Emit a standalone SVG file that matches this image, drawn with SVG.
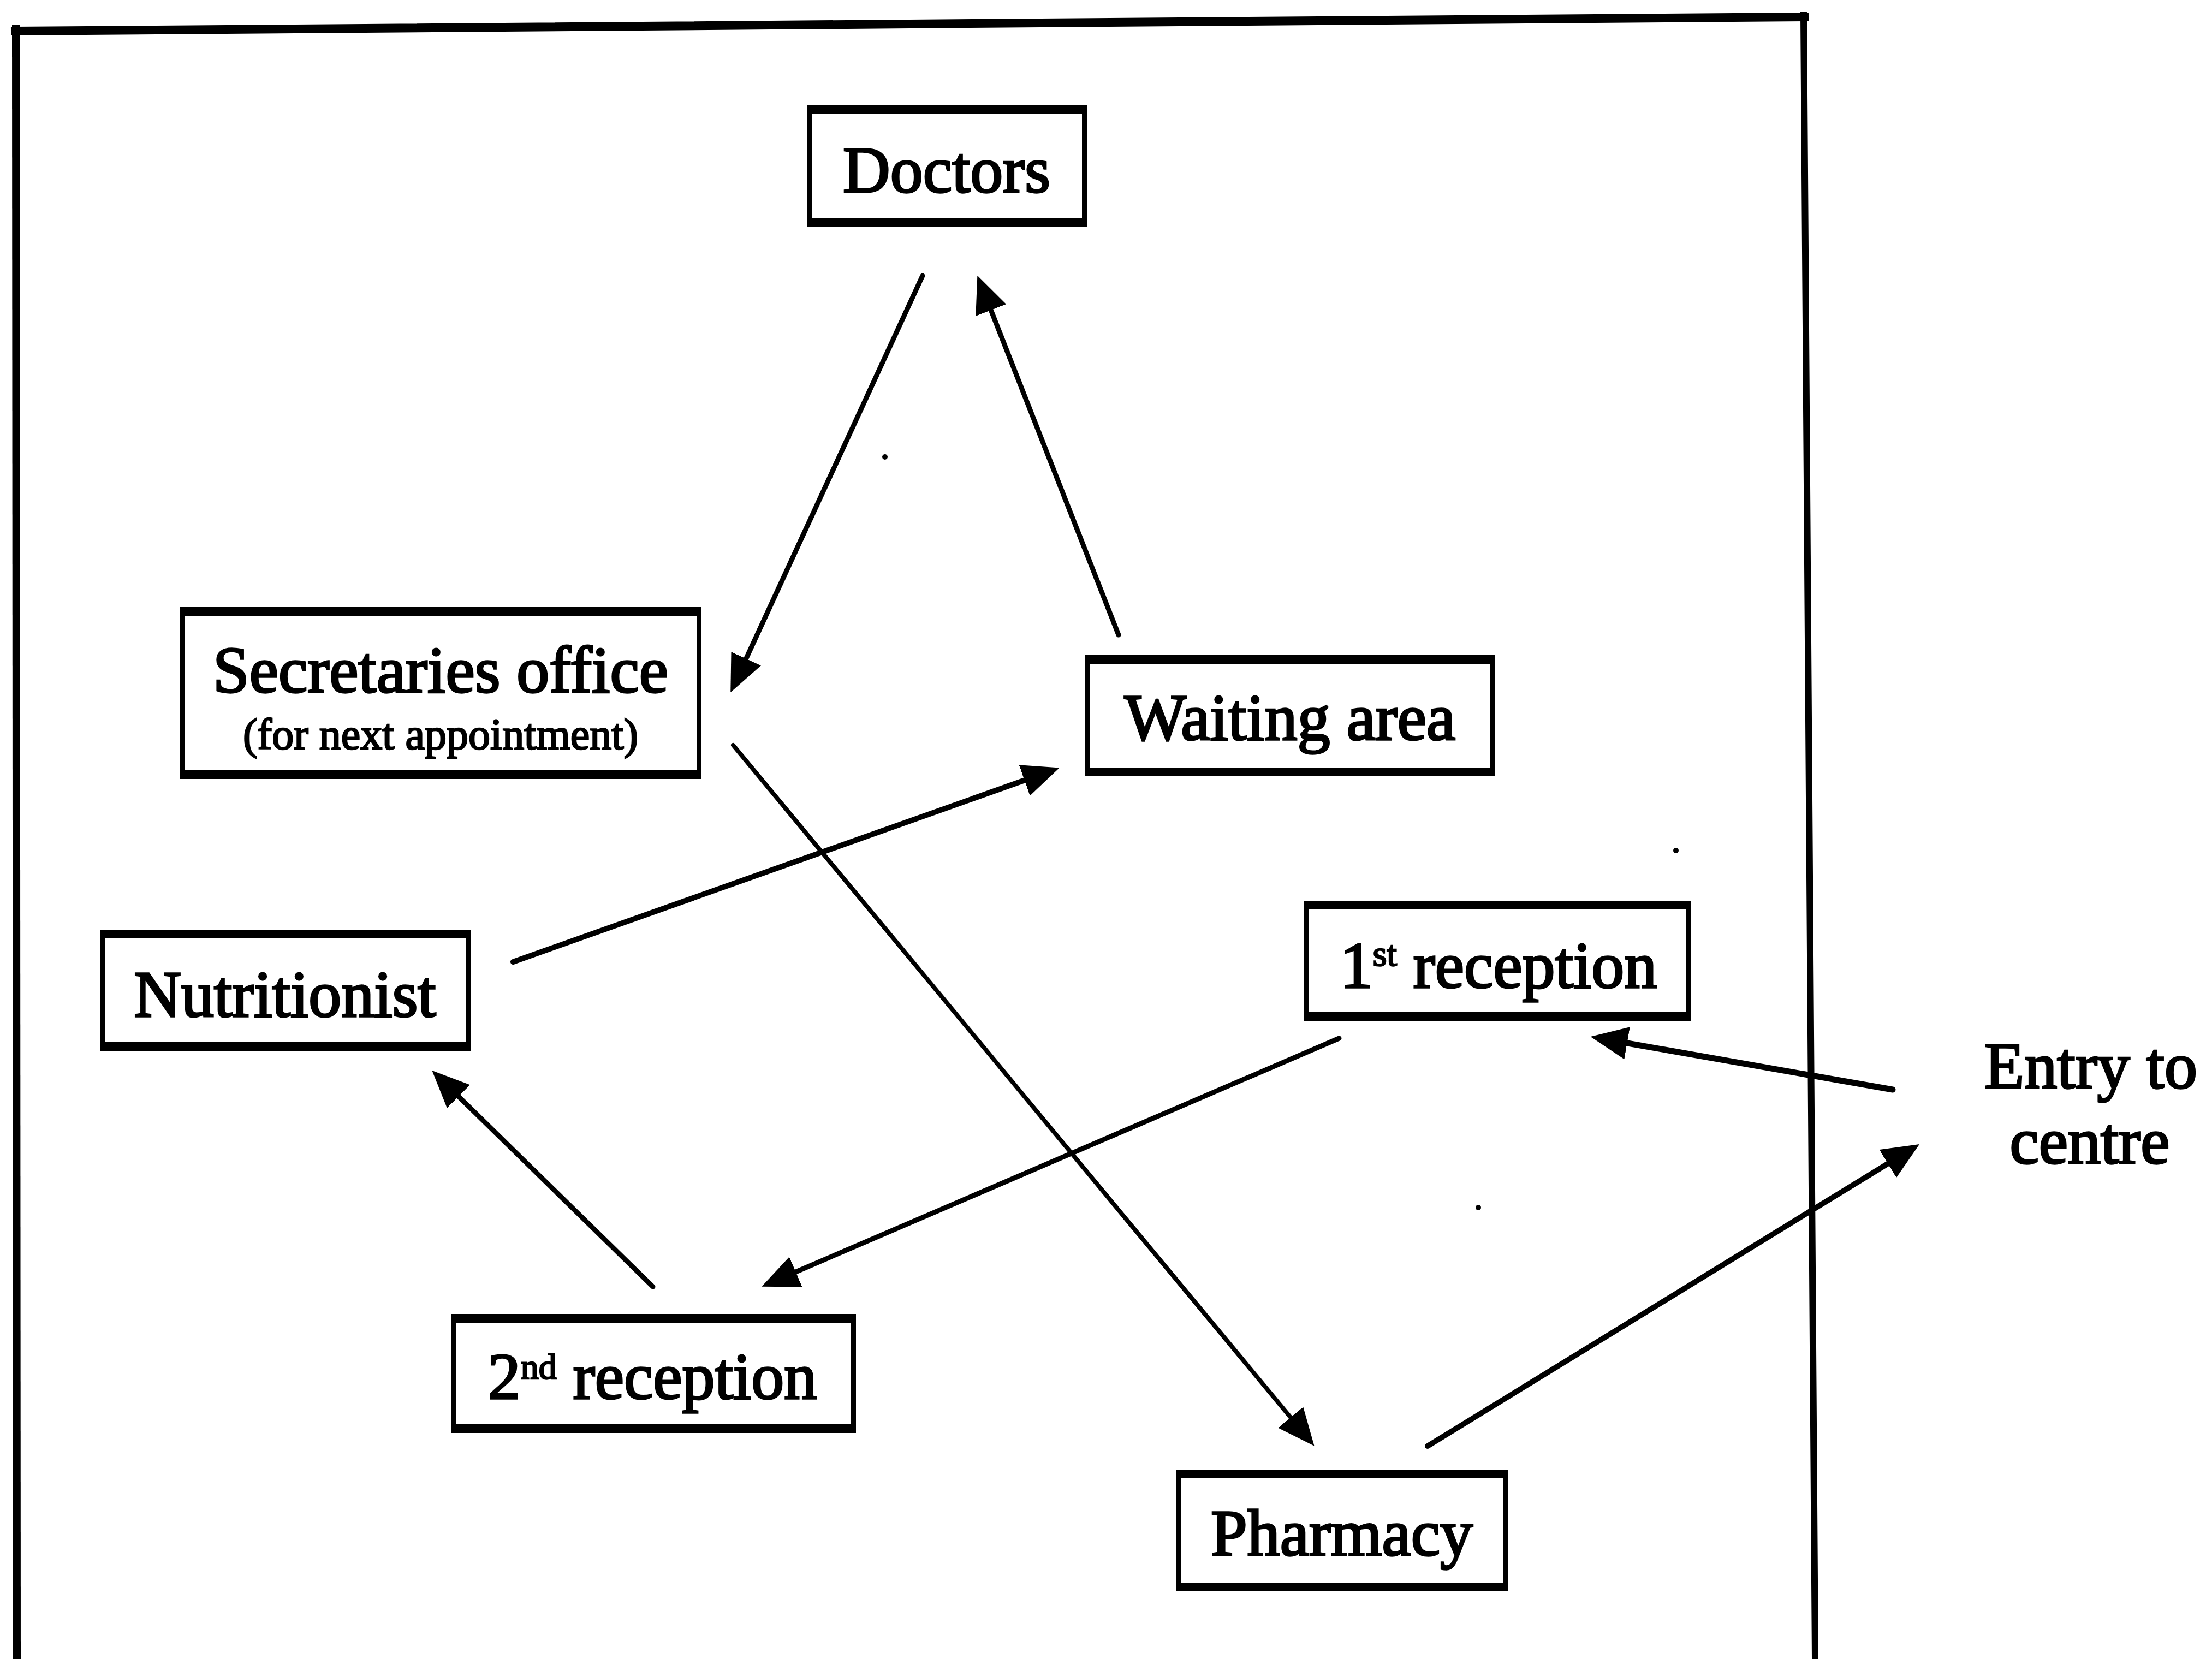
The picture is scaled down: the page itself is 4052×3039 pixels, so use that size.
<svg xmlns="http://www.w3.org/2000/svg" width="4052" height="3039" viewBox="0 0 4052 3039">
  <style>
    .bo { fill: #000; }
    .bi { fill: #fff; }
    .lbl { font-family: "Liberation Serif", "Times New Roman", serif; font-size: 120px; fill: #000; stroke: #000; stroke-width: 3.5; text-anchor: middle; }
    .small { font-size: 80px; stroke-width: 2.5; }
    .sup { font-size: 66px; stroke-width: 2.5; }
    .frame { stroke: #000; fill: none; stroke-linecap: square; }
    .conn { stroke: #000; fill: none; stroke-width: 9; stroke-linecap: round; marker-end: url(#arrow); }
    .speck { fill: #000; }
  </style>
  <defs>
    <marker id="arrow" markerUnits="userSpaceOnUse" viewBox="0 0 68 60" markerWidth="68" markerHeight="60" refX="28" refY="30" orient="auto">
      <path d="M0,0 L68,30 L0,60 Z" fill="#000"/>
    </marker>
  </defs>

  <rect width="4052" height="3039" fill="#fff"/>

  <!-- outer frame of the centre -->
  <g id="frame">
    <path class="frame" d="M28,57 L3305,31" stroke-width="16"/>
    <path class="frame" d="M29,52 L31,3039" stroke-width="14"/>
    <path class="frame" d="M3304,28 L3325,3039" stroke-width="12"/>
  </g>

  <!-- connectors -->
  <g id="connectors">
    <path class="conn" d="M1690,505 L1355,1232"/>
    <path class="conn" d="M2049,1163 L1805,542"/>
    <path class="conn" d="M1343,1365 L2382,2618" style="stroke-width:8"/>
    <path class="conn" d="M940,1762 L1903,1420" style="stroke-width:10"/>
    <path class="conn" d="M1196,2357 L820,1989"/>
    <path class="conn" d="M2453,1902 L1432,2341"/>
    <path class="conn" d="M3467,1996 L2953,1906" style="stroke-width:11"/>
    <path class="conn" d="M2615,2649 L3482,2117" style="stroke-width:10"/>
  </g>

  <!-- rooms: black outer rect with white inner rect gives thick top/bottom, thinner sides -->
  <g id="doctors">
    <rect class="bo" x="1478" y="192" width="513" height="224"/>
    <rect class="bi" x="1487" y="208" width="495" height="192"/>
    <text class="lbl" x="1734" y="352">Doctors</text>
  </g>

  <g id="secretaries">
    <rect class="bo" x="330" y="1112" width="955" height="315"/>
    <rect class="bi" x="339" y="1128" width="937" height="283"/>
    <text class="lbl" x="807" y="1268">Secretaries office</text>
    <text class="lbl small" x="807" y="1372">(for next appointment)</text>
  </g>

  <g id="waiting">
    <rect class="bo" x="1988" y="1200" width="750" height="222"/>
    <rect class="bi" x="1997" y="1216" width="732" height="190"/>
    <text class="lbl" x="2363" y="1355">Waiting area</text>
  </g>

  <g id="nutritionist">
    <rect class="bo" x="183" y="1703" width="679" height="222"/>
    <rect class="bi" x="192" y="1719" width="661" height="190"/>
    <text class="lbl" x="522" y="1862">Nutritionist</text>
  </g>

  <g id="reception1">
    <rect class="bo" x="2388" y="1650" width="710" height="220"/>
    <rect class="bi" x="2397" y="1666" width="692" height="188"/>
    <text class="lbl" x="2745" y="1809">1<tspan class="sup" dy="-40">st</tspan><tspan dy="40"> reception</tspan></text>
  </g>

  <g id="reception2">
    <rect class="bo" x="826" y="2407" width="742" height="218"/>
    <rect class="bi" x="835" y="2423" width="724" height="186"/>
    <text class="lbl" x="1195" y="2562">2<tspan class="sup" dy="-36">nd</tspan><tspan dy="36"> reception</tspan></text>
  </g>

  <g id="pharmacy">
    <rect class="bo" x="2154" y="2692" width="609" height="223"/>
    <rect class="bi" x="2163" y="2708" width="591" height="191"/>
    <text class="lbl" x="2458" y="2849">Pharmacy</text>
  </g>

  <g id="entry">
    <text class="lbl" x="3830" y="1993">Entry to</text>
    <text class="lbl" x="3828" y="2131">centre</text>
  </g>

  <!-- small specks -->
  <circle class="speck" cx="1621" cy="837" r="5"/>
  <circle class="speck" cx="3070" cy="1558" r="5"/>
  <circle class="speck" cx="2708" cy="2212" r="5"/>
</svg>
